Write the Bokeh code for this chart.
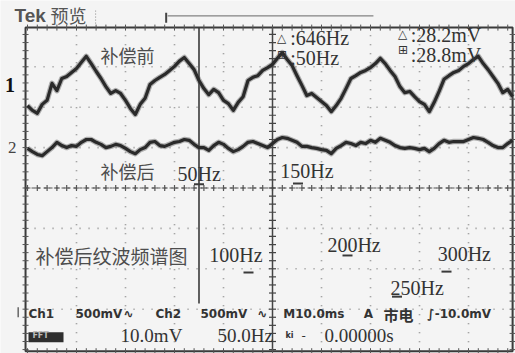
import numpy as np
from bokeh.plotting import figure
from bokeh.models import Range1d, Label
from bokeh.embed import file_html
from bokeh.resources import INLINE

# ---------------- data ----------------
# sample clock: 1 ms per sample, 10 ms / div
t_ms = np.arange(100) * 1.0
# channel 1 (before compensation), screen divisions
ch1_div = [2.04, 1.92, 1.85, 2.07, 2.17, 2.59, 2.41, 2.71, 2.76, 2.86,
           2.96, 3.11, 3.26, 3.08, 2.89, 2.71, 2.51, 2.34, 2.41, 2.34,
           2.17, 1.97, 1.82, 2.07, 2.22, 2.56, 2.66, 2.74, 2.81, 2.91,
           3.01, 3.14, 3.23, 3.08, 2.93, 2.66, 2.46, 2.31, 2.44, 2.36,
           2.17, 2.09, 1.92, 2.12, 2.26, 2.66, 2.74, 2.78, 2.91, 2.98,
           3.06, 3.21, 3.35, 3.18, 3.03, 2.78, 2.54, 2.29, 2.34, 2.24,
           2.14, 2.04, 1.89, 2.04, 2.22, 2.46, 2.71, 2.78, 2.86, 2.91,
           2.98, 3.08, 3.21, 3.08, 2.91, 2.76, 2.51, 2.36, 2.39, 2.26,
           2.14, 2.07, 1.89, 2.12, 2.39, 2.69, 2.78, 2.86, 2.91, 3.01,
           3.08, 3.18, 3.26, 3.08, 2.93, 2.76, 2.59, 2.36, 2.44, 2.26]
# channel 2 (after compensation), screen divisions
ch2_div = [0.98, 0.90, 0.83, 0.80, 0.90, 1.00, 1.13, 1.05, 1.00, 1.05,
           1.03, 1.13, 1.20, 1.20, 1.13, 1.08, 1.00, 1.03, 1.08, 1.05,
           0.98, 0.90, 0.85, 0.95, 1.00, 1.13, 1.15, 1.05, 1.03, 1.08,
           1.13, 1.15, 1.20, 1.18, 1.08, 1.00, 1.00, 0.93, 1.05, 1.13,
           1.08, 0.98, 0.90, 0.95, 1.03, 1.13, 1.15, 1.10, 1.05, 1.00,
           1.10, 1.20, 1.25, 1.23, 1.18, 1.13, 1.03, 1.03, 1.00, 0.98,
           0.95, 0.93, 0.85, 0.98, 1.05, 1.13, 1.10, 1.05, 1.13, 1.10,
           1.18, 1.13, 1.23, 1.18, 1.13, 1.05, 1.00, 0.98, 1.00, 0.98,
           0.95, 0.98, 0.90, 0.98, 1.10, 1.18, 1.13, 1.15, 1.15, 1.15,
           1.20, 1.25, 1.23, 1.20, 1.13, 1.05, 1.00, 1.00, 1.10, 1.18]
# ripple spectrum after compensation (FFT, 50 Hz / div)
spec_freq_hz = [50, 100, 150, 200, 250, 300]
spec_level_div = [0.09, -2.09, 0.11, -1.67, -2.69, -2.07]
spec_labels = ["50Hz", "100Hz", "150Hz", "200Hz", "250Hz", "300Hz"]
cursor_freq_hz = 50

INK = "#333333"
SOFT = "#4d4d4d"
BG = "#f4f4f4"

p = figure(width=515, height=353, x_range=Range1d(-5.51, 99.59),
           y_range=Range1d(-4.097, 4.641), output_backend="svg",
           toolbar_location=None, min_border=0)
p.extra_x_ranges = {"freq": Range1d(-150.5, 369.7)}
p.axis.visible = False
p.grid.visible = False
p.outline_line_color = None
p.background_fill_color = BG
p.border_fill_color = BG

FL, FR, FT, FB = -0.4, 99.0, 3.97, -4.04

# graticule
vx = [10, 20, 30, 40, 60, 70, 80, 90]
p.segment(x0=vx, y0=FB, x1=vx, y1=FT, line_dash="1 8", line_color="#8a8a8a", line_width=1.6)
hy = [3, 2, 1, -1, -2, -3]
p.segment(x0=FL, y0=hy, x1=FR, y1=hy, line_dash="1 8", line_color="#8a8a8a", line_width=1.6)
# centre axes with ticks
p.line([FL, FR], [0, 0], line_dash="3 3", line_color="#555555", line_width=1.2)
p.scatter(np.arange(0, 99, 2.0), 0, marker="cross", size=6, line_color="#555555", line_width=1.2)
p.line([50, 50], [FB, FT], line_color="#444444", line_width=1.5)
p.scatter(50, np.arange(-4, 4, 0.2), marker="dash", size=7, line_color="#444444", line_width=1.2)
# frame
p.quad(left=FL, right=FR, top=FT, bottom=FB, fill_color=None, line_color="#3a3a3a", line_width=2)
p.scatter(FL, np.arange(-4, 4, 0.2), marker="dash", size=6, line_color="#555555")
p.scatter(FR, np.arange(-4, 4, 0.2), marker="dash", size=6, line_color="#555555")
p.scatter(np.arange(0, 99, 2.0), FT, marker="dash", angle=np.pi / 2, size=6, line_color="#555555")
p.scatter(np.arange(0, 99, 2.0), FB, marker="dash", angle=np.pi / 2, size=6, line_color="#555555")

# cursor
p.segment(x0=cursor_freq_hz, y0=-2.86, x1=cursor_freq_hz, y1=FT, x_range_name="freq",
          line_color="#3a3a3a", line_width=1.6)
# spectrum markers
p.scatter(spec_freq_hz, spec_level_div, marker="dash", size=10, line_width=2,
          line_color="#3a3a3a", x_range_name="freq")

# traces (fuzzy, thick scope trace)
for ys in (ch1_div, ch2_div):
    p.line(t_ms, ys, line_color="#5a5a5a", line_width=5.5, line_alpha=0.45, line_join="round")
    p.line(t_ms, ys, line_color="#2a2a2a", line_width=3.2, line_join="round")

# header trigger bar
p.segment(x0=28.6, y0=4.26, x1=70.6, y1=4.26, line_color="#666666", line_width=1)
p.segment(x0=28.3, y0=4.09, x1=28.3, y1=4.34, line_color="#444444", line_width=2)
p.segment(x0=13.9, y0=4.07, x1=13.9, y1=4.39, line_color="#888888", line_width=1, line_dash="1 2")
# reference bracket left of screen
p.segment(x0=-1.9, y0=-2.95, x1=-1.9, y1=-3.2, line_color="#666666", line_width=1.5)

# FFT icon
p.quad(left=0.2, right=7.35, bottom=-3.82, top=-3.57, fill_color="#2e2e2e", line_color=None)


def lab(x, y, text, size, font="Liberation Serif", color=INK, bold=False, align="left",
        x_range_name="default"):
    p.add_layout(Label(x=x, y=y, text=text, text_font_size=f"{size}px", text_font=font,
                       text_color=color, text_font_style="bold" if bold else "normal",
                       text_align=align, text_baseline="middle", x_range_name=x_range_name))


CJK = "Noto Sans CJK SC"
SANS = "DejaVu Sans"

lab(-2.65, 4.27, "Tek", 19, font="Liberation Sans", color="#555555", bold=True)
lab(4.69, 4.27, "预览", 18, font=CJK, color="#555555")
lab(-4.6, 2.54, "1", 20, bold=True, color="#111111")
lab(-4.0, 1.0, "2", 17, color="#444444")

lab(14.9, 3.28, "补偿前", 18, font=CJK, color=SOFT)
lab(14.9, 0.43, "补偿后", 18, font=CJK, color=SOFT)
lab(1.63, -1.67, "补偿后纹波频谱图", 19, font=CJK, color=SOFT)

# harmonic labels
lab(30.6, 0.35, spec_labels[0], 20)
lab(37.1, -1.67, spec_labels[1], 20)
lab(51.6, 0.42, spec_labels[2], 20)
lab(61.2, -1.40, spec_labels[3], 20)
lab(74.1, -2.48, spec_labels[4], 20)
lab(83.7, -1.63, spec_labels[5], 20)

# cursor readouts
lab(50.9, 3.72, "△", 12, font=SANS, color=INK)
lab(53.6, 3.71, ":646Hz", 20)
lab(50.9, 3.28, "⊞", 12, font=SANS, color=INK)
lab(53.6, 3.23, ":50Hz", 20)
lab(75.6, 3.82, "△", 12, font=SANS, color=INK)
lab(78.2, 3.79, ":28.2mV", 20)
lab(75.6, 3.42, "⊞", 12, font=SANS, color=INK)
lab(78.2, 3.29, ":28.8mV", 20)

# status lines
r1 = -3.13
lab(0.2, r1, "Ch1", 12, font=SANS, bold=True)
lab(9.8, r1, "500mV", 12, font=SANS, bold=True)
lab(19.6, r1, "∿", 12, font=SANS, bold=True)
lab(26.1, r1, "Ch2", 12, font=SANS, bold=True)
lab(35.3, r1, "500mV", 12, font=SANS, bold=True)
lab(46.9, r1, "∿", 12, font=SANS, bold=True)
lab(52.2, r1, "M10.0ms", 12, font=SANS, bold=True)
lab(68.6, r1, "A", 12, font=SANS, bold=True)
lab(72.65, r1, "市电", 15, font=CJK, bold=True)
lab(81.6, r1, "∫-10.0mV", 12, font=SANS, bold=True)

r2 = -3.66
lab(1.0, r2, "FFT", 8, font=SANS, color="#bbbbbb", bold=True)
lab(19.0, r2, "10.0mV", 19)
lab(38.8, r2, "50.0Hz", 19)
lab(52.65, r2, "ki", 8, font=SANS, bold=True)
lab(55.9, r2, "-", 12, font=SANS)
lab(60.6, r2, "0.00000s", 19)

open("out.html", "w").write(file_html(p, INLINE))
